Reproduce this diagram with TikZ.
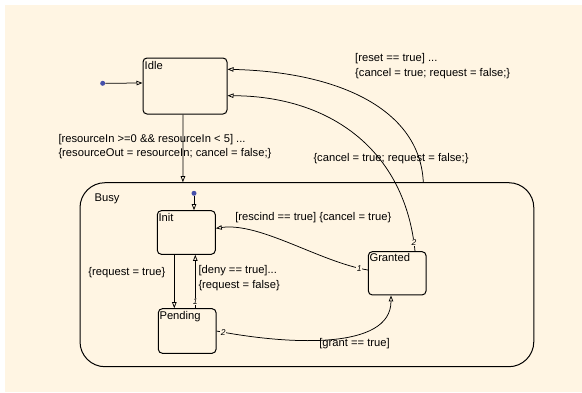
\documentclass[tikz,border=0pt]{standalone}
\usepackage{fontspec}
\setmainfont{Liberation Sans}
\usetikzlibrary{arrows.meta}
\definecolor{chartbg}{RGB}{255,245,227}
\definecolor{dotblue}{RGB}{70,80,170}

\begin{document}
\begin{tikzpicture}[x=1pt,y=-1pt,
  state/.style={draw=black,line width=1pt,rounded corners=4pt,inner sep=0pt},
  trans/.style={draw=black,line width=0.75pt,-{Triangle[open,length=6pt,width=4.5pt]}},
  txt/.style={inner sep=0pt,font=\fontsize{11.2}{14.5}\selectfont,align=left},
  num/.style={inner sep=0.6pt,fill=chartbg,font=\fontsize{8.5}{8.5}\selectfont\itshape},
  dot/.style={circle,fill=dotblue,inner sep=0pt,minimum size=5pt}]

\useasboundingbox (0,0) rectangle (582,392);
\fill[chartbg] (5,5) rectangle (582,392);

% states
\node[state,rounded corners=25pt,minimum width=453.8pt,minimum height=184pt,
  label={[txt,anchor=base west,xshift=15pt,yshift=-19.5pt]north west:Busy}] (busy) at (306.9,274.7) {};
\node[state,minimum width=84pt,minimum height=56pt,
  label={[txt,anchor=base west,xshift=2pt,yshift=-11.5pt]north west:Idle}] (idle) at (185,86) {};
\node[state,minimum width=58pt,minimum height=43.6pt,
  label={[txt,anchor=base west,xshift=1.5pt,yshift=-10.8pt]north west:Init}] (init) at (186.3,232.5) {};
\node[state,minimum width=57.7pt,minimum height=44.6pt,
  label={[txt,anchor=base west,xshift=1.5pt,yshift=-11.5pt]north west:Pending}] (pending) at (187.2,331) {};
\node[state,minimum width=57.7pt,minimum height=43.3pt,
  label={[txt,anchor=base west,xshift=1.5pt,yshift=-10.8pt]north west:Granted}] (granted) at (397.2,273.3) {};

% default transitions
\node[dot] (idledot) at (102.7,83.3) {};
\node[dot] (initdot) at (194,193.3) {};
\draw[trans] (idledot) -- ([yshift=3pt]idle.west);
\draw[trans] (initdot) -- ([xshift=7.7pt]init.north);

% transitions
\draw[trans] ([xshift=-2pt]idle.south) -- ([xshift=-124pt]busy.north);
\draw[trans] ([xshift=116.4pt]busy.north) .. controls (420,110) and (340,72) .. ([yshift=16.7pt]idle.east);
\draw[trans] ([xshift=17.8pt]granted.north) .. controls (405,150) and (330,96) .. ([yshift=-9.7pt]idle.east)
  node[num,pos=0.03] {2};
\draw[trans] ([yshift=3.3pt]granted.west) .. controls (320,262) and (260,222) .. ([yshift=4.2pt]init.east)
  node[num,pos=0.06] {1};
\draw[trans] (pending.east) .. controls (290,345) and (391,350) .. ([xshift=-6.2pt]granted.south)
  node[num,pos=0.03] {2};
\draw[trans] ([xshift=-12pt]init.south) -- ([xshift=-12.9pt]pending.north);
\draw[trans] ([xshift=8.1pt]pending.north) -- ([xshift=9pt]init.south) node[num,pos=0.13] {1};

% labels
\node[txt,anchor=west] (resLbl) at (58.3,146.5) {[resourceIn >=0 \&\& resourceIn < 5] ...\\\{resourceOut = resourceIn; cancel = false;\}};
\node[txt,anchor=west] (resetLbl) at (355,66.3) {[reset == true] ...\\\{cancel = true; request = false;\}};
\node[txt,anchor=west] (cancelLbl) at (313.3,158.3) {\{cancel = true; request = false;\}};
\node[txt] (rescindLbl) at (313.3,217.3) {[rescind == true] \{cancel = true\}};
\node[txt,anchor=east] (requestLbl) at (165.5,272.3) {\{request = true\}};
\node[txt,anchor=west] (denyLbl) at (198.3,278.3) {[deny == true]...\\\{request = false\}};
\node[txt] (grantLbl) at (354.5,343.3) {[grant == true]};

\end{tikzpicture}
\end{document}
